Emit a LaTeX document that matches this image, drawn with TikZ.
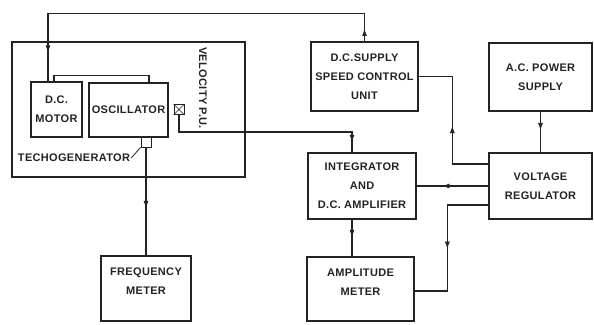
\documentclass[tikz,border=0pt]{standalone}
\usepackage{fontspec}
\setmainfont{Liberation Sans}[LetterSpace=3]
\usepackage{tikz}
\usetikzlibrary{arrows.meta, positioning, decorations.markings}
\definecolor{mydark}{RGB}{35,35,35}
\newcommand{\lettering}{\fontsize{11}{19}\selectfont\bfseries}
\tikzset{
  block/.style={rectangle, draw=mydark, line width=1.3pt, inner sep=0pt,
    align=center, font=\lettering, text=mydark},
  pickup/.style={rectangle, draw=mydark, line width=1pt, inner sep=0pt,
    minimum width=10pt, minimum height=10pt},
  lbl/.style={align=center, font=\lettering, text=mydark, inner sep=1pt},
  flow/.style={line width=1.3pt, color=mydark},
  midarrow/.style={postaction={decorate, decoration={markings,
    mark=at position #1 with {\arrow[line width=0.6pt]{Latex[length=7pt, width=5pt]}}}}}
}

\begin{document}
\begin{tikzpicture}[x=1pt, y=-1pt]
  \useasboundingbox (0,0) rectangle (594,324);

  % Velocity pick-up unit
  \node[block, minimum width=233pt, minimum height=135pt] (velpu) at (128.5,109.5) {};
  \node[lbl, rotate=-90] (velputxt) at (203,88) {VELOCITY P.U.};
  \node[block, minimum width=51pt, minimum height=55pt] (motor) at (56.5,109.5) {D.C.\\MOTOR};
  \node[block, minimum width=79pt, minimum height=54pt] (osc) at (128.5,110) {OSCILLATOR};
  \node[pickup] (vsens) at (179,109.5) {};
  \draw[mydark, line width=0.7pt] (vsens.north west) -- (vsens.south east)
    (vsens.south west) -- (vsens.north east);
  \node[pickup] (tacho) at (146,142) {};
  \node[lbl] (tachotxt) at (74,158) {TECHOGENERATOR};

  % Right hand blocks
  \node[block, minimum width=107pt, minimum height=69pt] (dcs) at (364.5,76.5) {D.C.SUPPLY\\SPEED CONTROL\\UNIT};
  \node[block, minimum width=103pt, minimum height=68pt] (ac) at (540.5,77) {A.C. POWER\\SUPPLY};
  \node[block, minimum width=108pt, minimum height=66pt] (integ) at (362,186) {INTEGRATOR\\AND\\D.C. AMPLIFIER};
  \node[block, minimum width=103pt, minimum height=66pt] (vreg) at (540.5,186) {VOLTAGE\\REGULATOR};

  % Meters
  \node[block, minimum width=90pt, minimum height=65pt] (freq) at (146,288.5) {};
  \node[lbl] (freqtxt) at (146,281) {FREQUENCY\\METER};
  \node[block, minimum width=107pt, minimum height=64pt] (amp) at (360.5,289) {};
  \node[lbl] (amptxt) at (360.5,282) {AMPLITUDE\\METER};

  % Connections
  \draw[flow, midarrow=0.03, midarrow=0.93] (dcs.north) -- ++(0,-28) -| ([xshift=-8.5pt]motor.north);
  \draw[flow] ([xshift=-2.5pt]motor.north) -- ++(0,-6) -| ([xshift=20.5pt]osc.north);
  \draw[flow, midarrow=0.95] (vsens.south) -- ++(0,17) -| ([xshift=-10pt]integ.north);
  \draw[flow, midarrow=0.56] (tacho.south) -- (tacho.south |- freq.north);
  \draw[mydark, line width=0.8pt] (tachotxt.east) -- (tacho.south west);
  \draw[flow, midarrow=0.47] ([yshift=22pt]vreg.west) -- ++(-36,0) |- (dcs.east);
  \draw[flow, midarrow=0.45] (ac.south) -- (vreg.north);
  \draw[flow, midarrow=0.64] (vreg.west) -- (integ.east);
  \draw[flow, midarrow=0.47] ([xshift=-10pt]integ.south) -- ([xshift=-8.5pt]amp.north);
  \draw[flow, midarrow=0.53] ([yshift=-19pt]vreg.west) -- ++(-41,0) |- ([yshift=-2pt]amp.east);
\end{tikzpicture}
\end{document}
